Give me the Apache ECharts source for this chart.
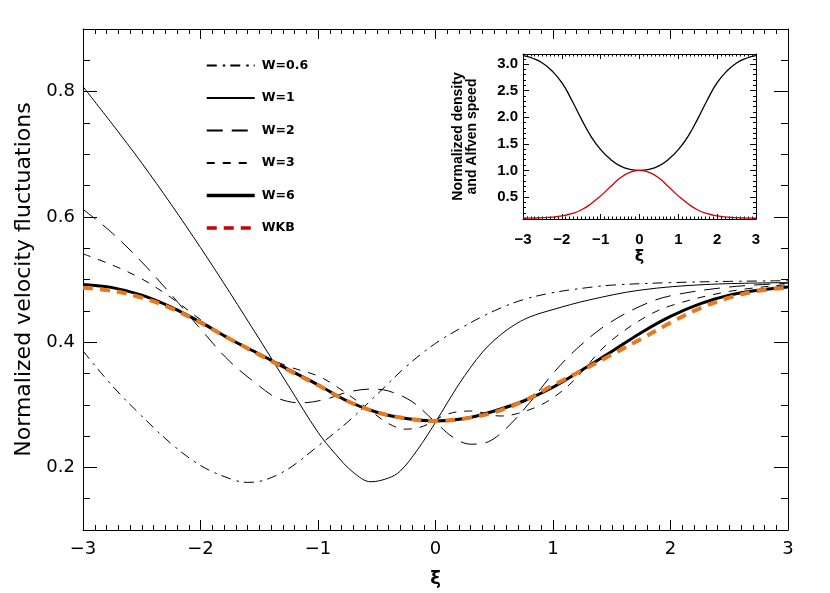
<!DOCTYPE html>
<html>
<head>
<meta charset="utf-8">
<script src="https://cdn.jsdelivr.net/npm/echarts@6/dist/echarts.min.js"></script>
<style>
html,body{margin:0;padding:0;background:#fff;}
#chart{width:830px;height:593px;}
</style>
</head>
<body>
<div id="chart"></div>
<script>
// ---- Main panel data ----
const xiW06 = [-3,-2.75,-2.5,-2.25,-2,-1.75,-1.6,-1.45,-1.25,-1,-0.75,-0.5,-0.25,0,0.25,0.5,0.75,1,1.25,1.5,2,2.5,3];
const w06   = [0.386,0.330,0.282,0.238,0.203,0.182,0.176,0.180,0.198,0.234,0.272,0.316,0.361,0.398,0.426,0.450,0.468,0.479,0.486,0.491,0.495,0.497,0.498];

const xiW1 = [-3,-2.75,-2.5,-2.25,-2,-1.75,-1.5,-1.25,-1,-0.85,-0.7,-0.55,-0.4,-0.3,-0.15,0,0.1,0.2,0.3,0.4,0.5,0.65,0.8,1.0,1.3,1.74,2.3,3];
const w1   = [0.808,0.748,0.686,0.620,0.551,0.479,0.405,0.330,0.256,0.221,0.192,0.177,0.183,0.194,0.229,0.272,0.303,0.333,0.360,0.384,0.403,0.425,0.440,0.452,0.467,0.483,0.492,0.495];

const xiW2 = [-3,-2.75,-2.5,-2.25,-2,-1.75,-1.5,-1.35,-1.15,-0.95,-0.75,-0.55,-0.4,-0.2,0,0.15,0.3,0.45,0.6,0.8,1,1.2,1.45,1.75,2,2.5,3];
const w2   = [0.612,0.574,0.528,0.476,0.421,0.369,0.330,0.311,0.303,0.308,0.320,0.325,0.322,0.305,0.272,0.248,0.237,0.241,0.262,0.303,0.350,0.389,0.427,0.458,0.474,0.488,0.494];

const xiW3 = [-3,-2.75,-2.5,-2.25,-2,-1.75,-1.5,-1.25,-1,-0.85,-0.6,-0.4,-0.25,-0.1,0.1,0.3,0.55,0.7,0.9,1.05,1.2,1.45,1.75,2,2.5,3];
const w3   = [0.541,0.523,0.501,0.471,0.436,0.404,0.381,0.361,0.346,0.330,0.297,0.270,0.261,0.266,0.285,0.290,0.282,0.286,0.300,0.318,0.343,0.395,0.436,0.458,0.481,0.492];

const xiW6 = [-3,-2.75,-2.5,-2.25,-2,-1.75,-1.5,-1.25,-1,-0.75,-0.5,-0.25,0,0.25,0.5,0.75,1,1.25,1.5,1.75,2,2.25,2.5,2.75,3];
const w6   = [0.492,0.487,0.475,0.456,0.432,0.405,0.381,0.356,0.332,0.306,0.288,0.278,0.274,0.278,0.290,0.306,0.328,0.356,0.385,0.415,0.441,0.461,0.475,0.483,0.488];
const wkb  = [0.487,0.482,0.471,0.454,0.431,0.405,0.380,0.355,0.331,0.306,0.288,0.278,0.274,0.278,0.288,0.306,0.331,0.355,0.380,0.405,0.431,0.454,0.471,0.482,0.487];

// ---- Inset data ----
const xiInset = [-3,-2.75,-2.5,-2.25,-2,-1.75,-1.5,-1.25,-1,-0.75,-0.5,-0.25,0,0.25,0.5,0.75,1,1.25,1.5,1.75,2,2.25,2.5,2.75,3];
const density = [0.100,0.103,0.109,0.121,0.143,0.185,0.255,0.372,0.520,0.690,0.855,0.962,1.000,0.962,0.855,0.690,0.520,0.372,0.255,0.185,0.143,0.121,0.109,0.103,0.100];
const alfven  = [3.16,3.11,3.02,2.87,2.65,2.33,1.97,1.64,1.39,1.21,1.085,1.02,1.00,1.02,1.085,1.21,1.39,1.64,1.97,2.33,2.65,2.87,3.02,3.11,3.16];

// ---- Tick labels ----
const mainYLabels = [0.2,0.4,0.6,0.8];
const insetYLabels = [0.5,1.0,1.5,2.0,2.5,3.0];
const insetYMinor = [0.1,0.2,0.3,0.4,0.5,0.6,0.7,0.8,0.9,1.0,1.1,1.2,1.3,1.4,1.5,1.6,1.7,1.8,1.9,2.0,2.1,2.2,2.3,2.4,2.5,2.6,2.7,2.8,2.9,3.0,3.1];

const pairs = (xs, ys) => xs.map((x, i) => [x, ys[i]]);
const FONT = "'DejaVu Sans', Verdana, sans-serif";
const FONT2 = "'Liberation Sans', Arial, Helvetica, sans-serif";
const minus = v => String(v).replace('-', '\u2212');

const black = '#000';
const axLine = {show: true, onZero: false, lineStyle: {color: black, width: 1}};
const noLine = {show: false, onZero: false};

function xAx(grid, pos, showLabel, opts) {
  return Object.assign({
    type: 'value', gridIndex: grid, position: pos, min: -3, max: 3, interval: 1,
    axisLine: axLine,
    axisTick: {show: true, inside: true, length: opts.major, lineStyle: {color: black}},
    minorTick: {show: true, splitNumber: 10, length: opts.minor, lineStyle: {color: black}},
    splitLine: {show: false}, minorSplitLine: {show: false},
    axisLabel: {show: showLabel, formatter: v => minus(v), color: black, fontFamily: opts.ff,
      fontSize: opts.fs, fontWeight: opts.fw, margin: opts.margin}
  }, opts.extra || {});
}

const chart = echarts.init(document.getElementById('chart'), null, {renderer: 'canvas'});

const option = {
  backgroundColor: '#fff',
  animation: false,
  textStyle: {fontFamily: FONT},
  grid: [
    {left: 83, right: 42, top: 29, bottom: 60, containLabel: false},
    {left: 523, right: 74, top: 54, bottom: 374, containLabel: false}
  ],
  legend: {
    orient: 'vertical', left: 200, top: 54, itemWidth: 48, itemHeight: 12, itemGap: 19.5,
    selectedMode: false,
    itemStyle: {opacity: 0},
    textStyle: {fontFamily: FONT, fontSize: 12.5, fontWeight: 'bold', color: black, padding: [0,0,0,2]},
    data: [
      {name: 'W=0.6'}, {name: 'W=1'}, {name: 'W=2'}, {name: 'W=3'},
      {name: 'W=6', lineStyle: {width: 3.5}},
      {name: 'WKB', lineStyle: {color: '#cc0000', width: 3.5}}
    ]
  },
  xAxis: [
    xAx(0, 'bottom', true, {major: 10, minor: 5, fs: 18, fw: 'normal', margin: 10, ff: FONT,
      extra: {name: 'ξ', nameLocation: 'middle', nameGap: 40,
        nameTextStyle: {fontSize: 18, fontWeight: 'bold', color: black, fontFamily: FONT}}}),
    xAx(0, 'top', false, {major: 10, minor: 5, fs: 18, fw: 'normal', margin: 10, ff: FONT}),
    xAx(1, 'bottom', true, {major: 5, minor: 2.5, fs: 15, fw: 'bold', margin: 13, ff: FONT2,
      extra: {name: 'ξ', nameLocation: 'middle', nameGap: 30,
        nameTextStyle: {fontSize: 16, fontWeight: 'bold', color: black, fontFamily: FONT}}}),
    xAx(1, 'top', false, {major: 5, minor: 2.5, fs: 15, fw: 'bold', margin: 12, ff: FONT2})
  ],
  yAxis: [
    {type: 'value', gridIndex: 0, position: 'left', min: 0.1, max: 0.9, interval: 0.05,
     axisLine: axLine,
     axisTick: {show: true, inside: true, length: 7, lineStyle: {color: black}},
     splitLine: {show: false},
     axisLabel: {show: true, customValues: mainYLabels, formatter: v => v.toFixed(1),
       color: black, fontFamily: FONT, fontSize: 18, margin: 8},
     name: 'Normalized velocity fluctuations', nameLocation: 'middle', nameRotate: 90, nameGap: 44,
     nameTextStyle: {fontSize: 22, color: black, fontFamily: FONT}},
    {type: 'value', gridIndex: 0, position: 'left', min: 0.1, max: 0.9,
     axisLine: noLine, splitLine: {show: false}, axisLabel: {show: false},
     axisTick: {show: true, inside: true, length: 14, customValues: mainYLabels, lineStyle: {color: black}}},
    {type: 'value', gridIndex: 0, position: 'right', min: 0.1, max: 0.9, interval: 0.05,
     axisLine: axLine, splitLine: {show: false}, axisLabel: {show: false},
     axisTick: {show: true, inside: true, length: 7, lineStyle: {color: black}}},
    {type: 'value', gridIndex: 0, position: 'right', min: 0.1, max: 0.9,
     axisLine: noLine, splitLine: {show: false}, axisLabel: {show: false},
     axisTick: {show: true, inside: true, length: 14, customValues: mainYLabels, lineStyle: {color: black}}},
    // inset
    {type: 'value', gridIndex: 1, position: 'left', min: 0.085, max: 3.19,
     axisLine: axLine, splitLine: {show: false},
     axisTick: {show: true, inside: true, length: 3, customValues: insetYMinor, lineStyle: {color: black}},
     axisLabel: {show: true, customValues: insetYLabels, formatter: v => v.toFixed(1),
       color: black, fontFamily: FONT2, fontSize: 15, fontWeight: 'bold', margin: 5},
     name: 'Normalized density\nand Alfven speed', nameLocation: 'middle', nameRotate: 90, nameGap: 44,
     nameTextStyle: {fontSize: 14, fontWeight: 'bold', color: black, fontFamily: FONT2, lineHeight: 14}},
    {type: 'value', gridIndex: 1, position: 'left', min: 0.085, max: 3.19,
     axisLine: noLine, splitLine: {show: false}, axisLabel: {show: false},
     axisTick: {show: true, inside: true, length: 6, customValues: insetYLabels, lineStyle: {color: black}}},
    {type: 'value', gridIndex: 1, position: 'right', min: 0.085, max: 3.19,
     axisLine: axLine, splitLine: {show: false}, axisLabel: {show: false},
     axisTick: {show: true, inside: true, length: 3, customValues: insetYMinor, lineStyle: {color: black}}},
    {type: 'value', gridIndex: 1, position: 'right', min: 0.085, max: 3.19,
     axisLine: noLine, splitLine: {show: false}, axisLabel: {show: false},
     axisTick: {show: true, inside: true, length: 6, customValues: insetYLabels, lineStyle: {color: black}}}
  ],
  series: [
    {name: 'W=0.6', type: 'line', xAxisIndex: 0, yAxisIndex: 0, data: pairs(xiW06, w06),
     symbol: 'none', smooth: 0.35, color: black,
     lineStyle: {color: black, width: 1, type: [10, 6, 2.5, 5]}},
    {name: 'W=1', type: 'line', xAxisIndex: 0, yAxisIndex: 0, data: pairs(xiW1, w1),
     symbol: 'none', smooth: 0.35, color: black,
     lineStyle: {color: black, width: 1}},
    {name: 'W=2', type: 'line', xAxisIndex: 0, yAxisIndex: 0, data: pairs(xiW2, w2),
     symbol: 'none', smooth: 0.35, color: black,
     lineStyle: {color: black, width: 1, type: [16, 9]}},
    {name: 'W=3', type: 'line', xAxisIndex: 0, yAxisIndex: 0, data: pairs(xiW3, w3),
     symbol: 'none', smooth: 0.35, color: black,
     lineStyle: {color: black, width: 1, type: [8, 8]}},
    {name: 'W=6', type: 'line', xAxisIndex: 0, yAxisIndex: 0, data: pairs(xiW6, w6),
     symbol: 'none', smooth: 0.35, color: black,
     lineStyle: {color: black, width: 3}},
    {name: 'WKB', type: 'line', xAxisIndex: 0, yAxisIndex: 0, data: pairs(xiW6, wkb),
     symbol: 'none', smooth: 0.35, color: '#e8771e',
     lineStyle: {color: '#e8771e', width: 4, type: [10, 7]}},
    {name: 'Alfven speed', type: 'line', xAxisIndex: 2, yAxisIndex: 4, data: pairs(xiInset, alfven),
     symbol: 'none', smooth: 0.5, color: black,
     lineStyle: {color: black, width: 1.3}},
    {name: 'Density', type: 'line', xAxisIndex: 2, yAxisIndex: 4, data: pairs(xiInset, density),
     symbol: 'none', smooth: 0.5, color: '#d00000',
     lineStyle: {color: '#d00000', width: 1.3}}
  ]
};
chart.setOption(option);
</script>
</body>
</html>
